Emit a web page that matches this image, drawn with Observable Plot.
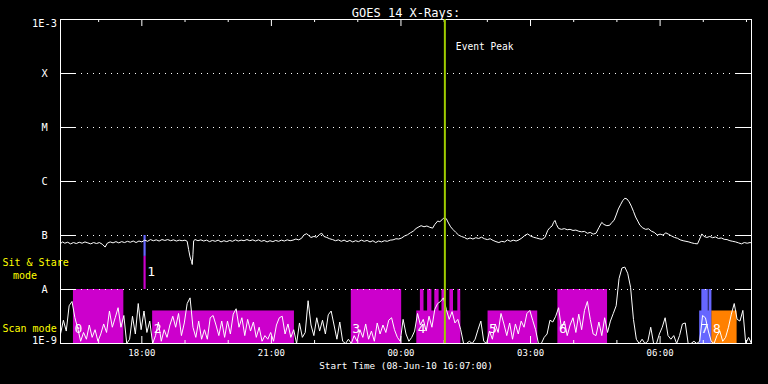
<!DOCTYPE html>
<html><head><meta charset="utf-8">
<script src="https://cdn.jsdelivr.net/npm/d3@7"></script>
<script src="https://cdn.jsdelivr.net/npm/@observablehq/plot@0.6"></script>
<style>html,body{margin:0;padding:0;background:#000;overflow:hidden;} #chart{width:768px;height:384px;}</style>
</head><body><div id="chart"></div>
<script>
const title = "GOES 14 X-Rays:";
const startLabel = "Start Time (08-Jun-10 16:07:00)";
const startTime = "16:07", endTime = "08:07";
const eventPeakTime = "01:01";
const eventLabel = "Event Peak";
const fluxTicks = [1e-9, 1e-8, 1e-7, 1e-6, 1e-5, 1e-4, 1e-3];
const fluxTickLabels = ["1E-9", "A", "B", "C", "M", "X", "1E-3"];
const timeTickLabels = ["18:00", "21:00", "00:00", "03:00", "06:00"];
const modeLabels = ["Sit & Stare", "mode", "Scan mode"];

// GOES long channel (W/m^2)
const goesTime = ["16:07","16:10","16:13","16:17","16:21","16:25","16:29","16:33","16:37","16:41","16:45","16:49","16:53","16:57","17:01","17:05","17:09","17:12","17:16","17:20","17:24","17:28","17:32","17:36","17:40","17:44","17:48","17:52","17:56","18:00","18:04","18:08","18:12","18:16","18:20","18:24","18:28","18:32","18:36","18:40","18:44","18:48","18:52","18:56","19:00","19:03","19:05","19:07","19:09","19:10","19:11","19:12","19:14","19:18","19:22","19:26","19:30","19:34","19:38","19:42","19:46","19:50","19:54","19:58","20:02","20:06","20:10","20:14","20:18","20:22","20:26","20:30","20:34","20:38","20:42","20:46","20:50","20:54","20:58","21:02","21:06","21:10","21:14","21:18","21:22","21:26","21:30","21:34","21:38","21:42","21:45","21:49","21:52","21:55","21:59","22:03","22:07","22:10","22:13","22:17","22:21","22:25","22:29","22:33","22:37","22:41","22:45","22:49","22:53","22:57","23:01","23:05","23:09","23:13","23:17","23:21","23:25","23:29","23:33","23:37","23:41","23:45","23:49","23:53","23:57","00:01","00:05","00:09","00:13","00:17","00:21","00:25","00:28","00:32","00:36","00:40","00:44","00:47","00:51","00:54","00:57","01:00","01:03","01:06","01:09","01:12","01:16","01:20","01:24","01:28","01:32","01:36","01:40","01:44","01:48","01:52","01:56","02:00","02:04","02:08","02:12","02:16","02:20","02:24","02:28","02:32","02:36","02:40","02:44","02:48","02:52","02:56","03:00","03:04","03:08","03:12","03:16","03:20","03:24","03:27","03:30","03:32","03:34","03:36","03:39","03:43","03:47","03:51","03:55","03:59","04:03","04:07","04:11","04:15","04:19","04:23","04:27","04:31","04:35","04:39","04:42","04:46","04:50","04:53","04:56","04:59","05:02","05:05","05:08","05:11","05:14","05:17","05:20","05:23","05:26","05:29","05:32","05:36","05:40","05:44","05:48","05:52","05:56","06:00","06:04","06:08","06:12","06:16","06:20","06:24","06:28","06:32","06:36","06:40","06:44","06:48","06:52","06:55","06:58","07:01","07:05","07:09","07:13","07:17","07:21","07:25","07:29","07:33","07:37","07:41","07:45","07:49","07:53","07:57","08:01","08:05","08:07"];
const goesFlux = [7.1e-8,7.6e-8,7.2e-8,7.5e-8,7.0e-8,7.4e-8,7.1e-8,7.5e-8,7.2e-8,7.6e-8,7.3e-8,7.0e-8,7.4e-8,7.1e-8,7.4e-8,6.9e-8,6.1e-8,7.2e-8,7.6e-8,7.3e-8,7.7e-8,7.3e-8,7.7e-8,7.4e-8,7.8e-8,7.5e-8,7.9e-8,7.4e-8,7.9e-8,7.6e-8,8.2e-8,7.8e-8,8.4e-8,8.0e-8,8.3e-8,7.9e-8,8.4e-8,8.1e-8,8.4e-8,8.0e-8,8.3e-8,7.9e-8,8.2e-8,8.0e-8,8.2e-8,7.8e-8,5.5e-8,4.0e-8,3.3e-8,2.9e-8,4.5e-8,8.0e-8,8.4e-8,8.0e-8,8.3e-8,7.9e-8,8.2e-8,7.7e-8,8.1e-8,7.8e-8,8.2e-8,7.6e-8,8.0e-8,7.7e-8,8.1e-8,7.8e-8,8.3e-8,7.9e-8,8.2e-8,8.0e-8,8.4e-8,8.0e-8,8.3e-8,7.9e-8,8.3e-8,7.8e-8,8.1e-8,7.6e-8,8.0e-8,7.7e-8,8.1e-8,7.8e-8,8.2e-8,7.9e-8,8.3e-8,8.0e-8,8.2e-8,8.6e-8,8.3e-8,8.9e-8,1.02e-7,1.08e-7,1.0e-7,9.2e-8,9.6e-8,9.3e-8,1.05e-7,1.1e-7,9.6e-8,9.2e-8,8.7e-8,8.4e-8,8.0e-8,8.3e-8,7.8e-8,8.2e-8,7.7e-8,8.1e-8,7.6e-8,8.0e-8,7.7e-8,8.2e-8,7.8e-8,8.1e-8,7.6e-8,8.0e-8,7.4e-8,7.9e-8,7.6e-8,8.0e-8,7.8e-8,8.2e-8,8.3e-8,8.7e-8,8.6e-8,9.0e-8,9.8e-8,1.03e-7,1.12e-7,1.2e-7,1.35e-7,1.45e-7,1.52e-7,1.45e-7,1.5e-7,1.42e-7,1.37e-7,1.6e-7,1.85e-7,1.8e-7,1.95e-7,2.15e-7,2.05e-7,1.7e-7,1.45e-7,1.3e-7,1.15e-7,1.02e-7,9.6e-8,9.2e-8,8.6e-8,9.0e-8,8.6e-8,9.1e-8,8.8e-8,9.3e-8,8.7e-8,8.4e-8,8.7e-8,8.1e-8,7.7e-8,7.4e-8,7.8e-8,7.6e-8,8.3e-8,7.8e-8,8.2e-8,7.9e-8,8.3e-8,9.0e-8,1.0e-7,1.07e-7,9.8e-8,9.3e-8,9.0e-8,8.7e-8,8.5e-8,9.2e-8,1.25e-7,1.4e-7,1.5e-7,1.75e-7,1.9e-7,1.6e-7,1.35e-7,1.3e-7,1.34e-7,1.28e-7,1.3e-7,1.24e-7,1.26e-7,1.2e-7,1.17e-7,1.19e-7,1.1e-7,1.14e-7,1.06e-7,1.1e-7,1.4e-7,1.75e-7,1.6e-7,1.52e-7,1.55e-7,1.75e-7,1.9e-7,2.4e-7,3.1e-7,3.7e-7,4.4e-7,4.9e-7,4.75e-7,4.2e-7,3.5e-7,2.8e-7,2.2e-7,1.85e-7,1.55e-7,1.38e-7,1.3e-7,1.33e-7,1.2e-7,1.14e-7,1.02e-7,1.06e-7,1.02e-7,1.12e-7,1.05e-7,9.8e-8,9.2e-8,8.9e-8,8.3e-8,8.0e-8,7.8e-8,7.6e-8,7.3e-8,7.1e-8,7.0e-8,8.6e-8,1.07e-7,9.6e-8,9.2e-8,9.6e-8,9.1e-8,9.4e-8,8.8e-8,9.0e-8,8.5e-8,8.4e-8,8.0e-8,7.8e-8,7.6e-8,7.3e-8,7.0e-8,7.4e-8,7.2e-8,7.4e-8,7.3e-8];

// Lower trace, one sample every 4 minutes from the start, in units of 1e-9 W/m^2
const lowCadenceMin = 4;
const lowFlux1e9 = [
1.5,2.7,1.7,5.0,6.0,3.0,1.9,1.1,1.6,1.2,
2.2,1.3,1.8,1.1,1.5,2.3,1.6,4.0,2.0,3.0,
4.6,2.0,3.3,1.0,1.2,3.2,1.5,5.5,1.8,4.0,
1.6,2.6,1.0,1.4,2.5,1.1,1.8,1.3,2.2,3.2,
2.0,3.6,1.4,2.4,5.5,7.0,2.0,1.3,2.6,1.2,
1.8,1.2,3.0,3.3,2.2,1.4,2.6,1.3,2.6,1.5,
3.5,4.4,2.0,3.0,1.4,2.8,1.7,2.5,1.3,2.0,
1.1,1.4,1.2,1.6,1.1,2.2,3.0,3.2,1.5,2.3,
1.3,1.8,1.0,2.4,1.3,1.6,6.2,2.2,1.4,3.0,
1.7,2.7,1.5,3.4,4.0,2.2,1.2,2.5,1.1,1.0,
1.2,1.0,1.4,1.1,1.8,1.3,2.3,1.2,1.7,1.1,
2.4,1.5,2.2,1.6,2.7,3.0,1.8,1.3,1.1,2.8,
1.5,1.1,1.3,1.7,3.6,2.2,2.8,1.7,3.2,2.0,
4.3,5.5,6.0,7.0,4.3,2.8,3.9,2.4,2.8,1.8,
1.0,1.0,1.1,1.0,1.2,1.8,2.6,1.1,1.0,1.7,
1.2,2.3,1.6,3.6,2.3,1.4,2.4,1.2,2.3,1.5,
2.6,2.0,3.6,4.1,2.7,1.8,1.0,1.0,1.3,1.5,
2.7,2.5,3.2,4.6,1.9,2.6,1.4,2.2,3.0,1.6,
3.5,1.8,4.1,6.0,2.8,1.5,1.4,2.5,1.4,3.0,
1.6,2.6,3.6,5.0,16,25,26,20,11,2.8,
1.2,1.0,1.2,1.0,1.1,2.0,1.0,1.0,1.5,2.0,
3.0,1.4,1.2,1.4,1.0,1.4,2.3,2.4,1.0,1.0,
1.1,1.0,1.1,3.3,3.0,1.7,1.1,1.0,1.4,1.7,
1.1,1.3,2.0,3.5,5.5,2.8,2.6,4.1,1.0,1.3,1.0];

// Observation blocks (rasters)
const rasterId    = ["0","1","1","2","3","4","4","4","4","4","4","4","5","6","7","7","7","8"];
const rasterStart = ["16:25","18:03","18:03","18:15","22:51","00:22","00:27","00:37","00:47","00:57","01:08","01:19","02:01","03:38","06:55","06:58","07:08","07:12"];
const rasterEnd   = ["17:35","18:06","18:06","21:32","00:01","01:23","00:32","00:43","00:53","01:02","01:13","01:23","03:10","04:47","07:12","07:07","07:12","07:47"];
const rasterLow   = [1e-9,4.1e-8,1e-8,1e-9,1e-9,1e-9,1e-9,1e-9,1e-9,1e-9,1e-9,1e-9,1e-9,1e-9,1e-9,1e-9,1e-9,1e-9];
const rasterHigh  = [1e-8,1e-7,4.1e-8,4e-9,1e-8,4e-9,1e-8,1e-8,1e-8,1e-8,1e-8,1e-8,4e-9,1e-8,4e-9,1e-8,1e-8,4e-9];
const rasterStudy = ["A","B","A","A","A","A","A","A","A","A","A","A","A","A","B","B","B","C"];
const studyColors = {A: "#cc00cc", B: "#6666ff", C: "#ff8000"};

function toDate(s) {
  const [h, m] = s.split(":").map(Number);
  return new Date(Date.UTC(2010, 5, h >= 16 ? 8 : 9, h, m));
}
const t0 = toDate(startTime), t1 = toDate(endTime);
const goes = goesTime.map((t, i) => ({t: toDate(t), f: goesFlux[i]}));
const low = lowFlux1e9.map((v, i) => ({t: new Date(+t0 + i * lowCadenceMin * 60000), f: v * 1e-9}));
const rasters = rasterId.map((id, i) => ({id, x1: toDate(rasterStart[i]), x2: toDate(rasterEnd[i]), y1: rasterLow[i], y2: rasterHigh[i], study: rasterStudy[i]}));
const rasterLabels = [];
for (const r of rasters) if (!rasterLabels.find(d => d.id === r.id)) rasterLabels.push(r);
const hours = d3.utcHour.range(d3.utcHour.ceil(t0), t1);
const majorHours = hours.filter(d => d.getUTCHours() % 3 === 0);
const minorHours = hours.filter(d => d.getUTCHours() % 3 !== 0);
const eventPeak = toDate(eventPeakTime);
const mono = "DejaVu Sans Mono";

const chart = Plot.plot({
  width: 768, height: 384,
  marginLeft: 60, marginRight: 17, marginTop: 19, marginBottom: 41,
  style: {background: "#000", color: "#fff", fontFamily: mono},
  x: {type: "utc", domain: [t0, t1], axis: null},
  y: {type: "log", domain: [1e-9, 1e-3], axis: null},
  marks: [
    ...Object.keys(studyColors).map(k => Plot.rect(rasters.filter(r => r.study === k), {x1: "x1", x2: "x2", y1: "y1", y2: "y2", fill: studyColors[k]})),
    Plot.text(rasterLabels.filter(d => d.id !== "1"), {x: "x1", text: "id", frameAnchor: "bottom", dy: -11, dx: 1, textAnchor: "start", fontSize: 13, fill: "#fff"}),
    Plot.text(rasterLabels.filter(d => d.id === "1"), {x: "x2", y: 1e-8, text: "id", dy: -18, dx: 1, textAnchor: "start", fontSize: 13, fill: "#fff"}),
    Plot.line(low, {x: "t", y: "f", stroke: "#fff", strokeWidth: 1, clip: true}),
    Plot.line(goes, {x: "t", y: "f", stroke: "#fff", strokeWidth: 1, clip: true}),
    Plot.ruleY(fluxTicks.slice(1, -1), {stroke: "#fff", insetLeft: 15, insetRight: 15, strokeDasharray: "1,5"}),
    Plot.ruleY(fluxTicks.slice(1, -1), {stroke: "#fff", insetRight: 676}),
    Plot.ruleY(fluxTicks.slice(1, -1), {stroke: "#fff", insetLeft: 676}),
    Plot.ruleX(majorHours, {stroke: "#fff", insetBottom: 317}),
    Plot.ruleX(minorHours, {stroke: "#fff", insetBottom: 321}),
    Plot.ruleX(majorHours, {stroke: "#fff", insetTop: 317}),
    Plot.ruleX(minorHours, {stroke: "#fff", insetTop: 321}),
    Plot.frame({stroke: "#fff"}),
    Plot.ruleX([eventPeak], {stroke: "#9fcc00", strokeWidth: 2}),
    Plot.text([eventLabel], {x: eventPeak, frameAnchor: "top", dy: 24, dx: 11, textAnchor: "start", fontSize: 9.6, fill: "#fff"}),
    Plot.text([title], {frameAnchor: "top", dy: -11, textAnchor: "middle", fontSize: 12, fill: "#fff"}),
    Plot.text([startLabel], {frameAnchor: "bottom", dy: 25, textAnchor: "middle", fontSize: 9.3, fill: "#fff"}),
    Plot.text(timeTickLabels, {x: d => toDate(d), text: d => d, frameAnchor: "bottom", dy: 12, textAnchor: "middle", fontSize: 9, fill: "#fff"}),
    Plot.text(fluxTicks.slice(1, -1), {y: d => d, text: (d, i) => fluxTickLabels[i + 1], frameAnchor: "left", dx: -16, textAnchor: "middle", fontSize: 10.3, fill: "#fff"}),
    Plot.text([fluxTicks[6]], {y: d => d, text: () => fluxTickLabels[6], frameAnchor: "left", dx: -16, dy: 4, textAnchor: "middle", fontSize: 10.3, fill: "#fff"}),
    Plot.text([fluxTicks[0]], {y: d => d, text: () => fluxTickLabels[0], frameAnchor: "left", dx: -16, dy: -3, textAnchor: "middle", fontSize: 10.3, fill: "#fff"}),
    Plot.text([modeLabels[0]], {frameAnchor: "top-left", dx: -58, dy: 239, textAnchor: "start", fontSize: 10, fill: "#ffff00"}),
    Plot.text([modeLabels[1]], {frameAnchor: "top-left", dx: -35.5, dy: 252, textAnchor: "middle", fontSize: 10, fill: "#ffff00"}),
    Plot.text([modeLabels[2]], {frameAnchor: "top-left", dx: -58, dy: 305, textAnchor: "start", fontSize: 10, fill: "#ffff00"})
  ]
});
document.getElementById("chart").appendChild(chart);
</script></body></html>
